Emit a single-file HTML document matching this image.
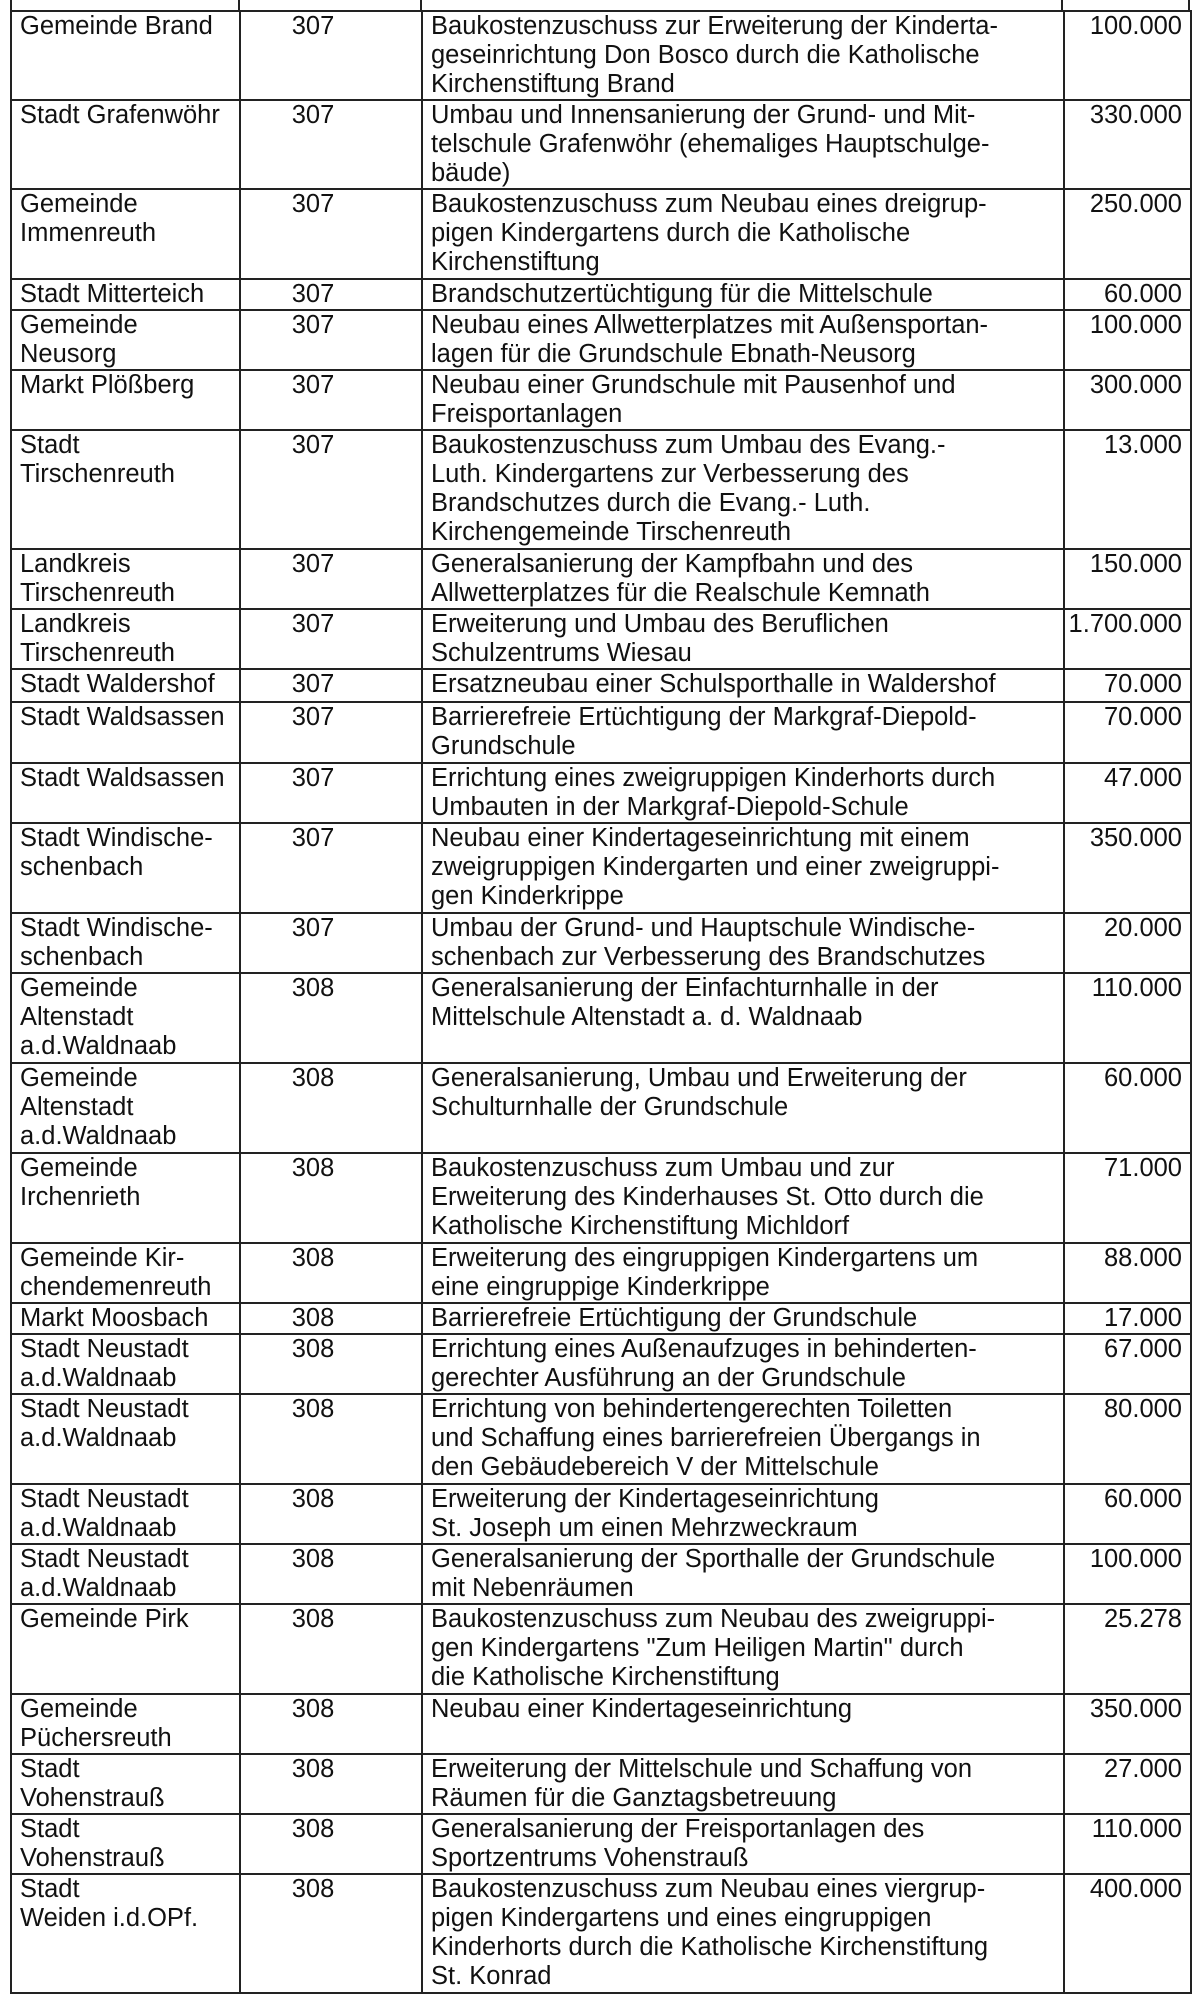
<!DOCTYPE html>
<html><head><meta charset="utf-8"><style>
body{margin:0;width:1200px;height:2013px;background:#fff;position:relative;overflow:hidden;font-family:"Liberation Sans",Arial,sans-serif;color:#111}
table{position:absolute;left:10px;top:10px;border-collapse:collapse;table-layout:fixed;width:1180px}
td{border:2px solid #222;vertical-align:top;font-size:25.5px;line-height:29px;padding:0 0 0 8px;overflow:hidden;white-space:nowrap}
td.n{text-align:center;padding:0 36px 0 0}
td.a{text-align:right;padding:0 8px 0 0}
.v{position:absolute;top:0;height:11px;width:2px;background:#222}
</style></head><body>
<div class="v" style="left:10px"></div><div class="v" style="left:238px"></div><div class="v" style="left:420px"></div><div class="v" style="left:1061px"></div><div class="v" style="left:1188px"></div>
<table>
<colgroup><col style="width:229px"><col style="width:182px"><col style="width:642px"><col style="width:127px"></colgroup>
<tr style="height:88px"><td>Gemeinde Brand</td><td class="n">307</td><td>Baukostenzuschuss zur Erweiterung der Kinderta-<br>geseinrichtung Don Bosco durch die Katholische<br>Kirchenstiftung Brand</td><td class="a">100.000</td></tr>
<tr style="height:89px"><td>Stadt Grafenwöhr</td><td class="n">307</td><td>Umbau und Innensanierung der Grund- und Mit-<br>telschule Grafenwöhr (ehemaliges Hauptschulge-<br>bäude)</td><td class="a">330.000</td></tr>
<tr style="height:90px"><td>Gemeinde<br>Immenreuth</td><td class="n">307</td><td>Baukostenzuschuss zum Neubau eines dreigrup-<br>pigen Kindergartens durch die Katholische<br>Kirchenstiftung</td><td class="a">250.000</td></tr>
<tr style="height:30px"><td>Stadt Mitterteich</td><td class="n">307</td><td>Brandschutzertüchtigung für die Mittelschule</td><td class="a">60.000</td></tr>
<tr style="height:60px"><td>Gemeinde<br>Neusorg</td><td class="n">307</td><td>Neubau eines Allwetterplatzes mit Außensportan-<br>lagen für die Grundschule Ebnath-Neusorg</td><td class="a">100.000</td></tr>
<tr style="height:60px"><td>Markt Plößberg</td><td class="n">307</td><td>Neubau einer Grundschule mit Pausenhof und<br>Freisportanlagen</td><td class="a">300.000</td></tr>
<tr style="height:119px"><td>Stadt<br>Tirschenreuth</td><td class="n">307</td><td>Baukostenzuschuss zum Umbau des Evang.-<br>Luth. Kindergartens zur Verbesserung des<br>Brandschutzes durch die Evang.- Luth.<br>Kirchengemeinde Tirschenreuth</td><td class="a">13.000</td></tr>
<tr style="height:60px"><td>Landkreis<br>Tirschenreuth</td><td class="n">307</td><td>Generalsanierung der Kampfbahn und des<br>Allwetterplatzes für die Realschule Kemnath</td><td class="a">150.000</td></tr>
<tr style="height:60px"><td>Landkreis<br>Tirschenreuth</td><td class="n">307</td><td>Erweiterung und Umbau des Beruflichen<br>Schulzentrums Wiesau</td><td class="a">1.700.000</td></tr>
<tr style="height:33px"><td>Stadt Waldershof</td><td class="n">307</td><td>Ersatzneubau einer Schulsporthalle in Waldershof</td><td class="a">70.000</td></tr>
<tr style="height:61px"><td>Stadt Waldsassen</td><td class="n">307</td><td>Barrierefreie Ertüchtigung der Markgraf-Diepold-<br>Grundschule</td><td class="a">70.000</td></tr>
<tr style="height:60px"><td>Stadt Waldsassen</td><td class="n">307</td><td>Errichtung eines zweigruppigen Kinderhorts durch<br>Umbauten in der Markgraf-Diepold-Schule</td><td class="a">47.000</td></tr>
<tr style="height:90px"><td>Stadt Windische-<br>schenbach</td><td class="n">307</td><td>Neubau einer Kindertageseinrichtung mit einem<br>zweigruppigen Kindergarten und einer zweigruppi-<br>gen Kinderkrippe</td><td class="a">350.000</td></tr>
<tr style="height:60px"><td>Stadt Windische-<br>schenbach</td><td class="n">307</td><td>Umbau der Grund- und Hauptschule Windische-<br>schenbach zur Verbesserung des Brandschutzes</td><td class="a">20.000</td></tr>
<tr style="height:90px"><td>Gemeinde<br>Altenstadt<br>a.d.Waldnaab</td><td class="n">308</td><td>Generalsanierung der Einfachturnhalle in der<br>Mittelschule Altenstadt a. d. Waldnaab</td><td class="a">110.000</td></tr>
<tr style="height:90px"><td>Gemeinde<br>Altenstadt<br>a.d.Waldnaab</td><td class="n">308</td><td>Generalsanierung, Umbau und Erweiterung der<br>Schulturnhalle der Grundschule</td><td class="a">60.000</td></tr>
<tr style="height:90px"><td>Gemeinde<br>Irchenrieth</td><td class="n">308</td><td>Baukostenzuschuss zum Umbau und zur<br>Erweiterung des Kinderhauses St. Otto durch die<br>Katholische Kirchenstiftung Michldorf</td><td class="a">71.000</td></tr>
<tr style="height:60px"><td>Gemeinde Kir-<br>chendemenreuth</td><td class="n">308</td><td>Erweiterung des eingruppigen Kindergartens um<br>eine eingruppige Kinderkrippe</td><td class="a">88.000</td></tr>
<tr style="height:30px"><td>Markt Moosbach</td><td class="n">308</td><td>Barrierefreie Ertüchtigung der Grundschule</td><td class="a">17.000</td></tr>
<tr style="height:60px"><td>Stadt Neustadt<br>a.d.Waldnaab</td><td class="n">308</td><td>Errichtung eines Außenaufzuges in behinderten-<br>gerechter Ausführung an der Grundschule</td><td class="a">67.000</td></tr>
<tr style="height:90px"><td>Stadt Neustadt<br>a.d.Waldnaab</td><td class="n">308</td><td>Errichtung von behindertengerechten Toiletten<br>und Schaffung eines barrierefreien Übergangs in<br>den Gebäudebereich V der Mittelschule</td><td class="a">80.000</td></tr>
<tr style="height:60px"><td>Stadt Neustadt<br>a.d.Waldnaab</td><td class="n">308</td><td>Erweiterung der Kindertageseinrichtung<br>St. Joseph um einen Mehrzweckraum</td><td class="a">60.000</td></tr>
<tr style="height:60px"><td>Stadt Neustadt<br>a.d.Waldnaab</td><td class="n">308</td><td>Generalsanierung der Sporthalle der Grundschule<br>mit Nebenräumen</td><td class="a">100.000</td></tr>
<tr style="height:90px"><td>Gemeinde Pirk</td><td class="n">308</td><td>Baukostenzuschuss zum Neubau des zweigruppi-<br>gen Kindergartens "Zum Heiligen Martin" durch<br>die Katholische Kirchenstiftung</td><td class="a">25.278</td></tr>
<tr style="height:59px"><td>Gemeinde<br>Püchersreuth</td><td class="n">308</td><td>Neubau einer Kindertageseinrichtung</td><td class="a">350.000</td></tr>
<tr style="height:60px"><td>Stadt<br>Vohenstrauß</td><td class="n">308</td><td>Erweiterung der Mittelschule und Schaffung von<br>Räumen für die Ganztagsbetreuung</td><td class="a">27.000</td></tr>
<tr style="height:60px"><td>Stadt<br>Vohenstrauß</td><td class="n">308</td><td>Generalsanierung der Freisportanlagen des<br>Sportzentrums Vohenstrauß</td><td class="a">110.000</td></tr>
<tr style="height:119px"><td>Stadt<br>Weiden i.d.OPf.</td><td class="n">308</td><td>Baukostenzuschuss zum Neubau eines viergrup-<br>pigen Kindergartens und eines eingruppigen<br>Kinderhorts durch die Katholische Kirchenstiftung<br>St. Konrad</td><td class="a">400.000</td></tr>
</table>
</body></html>
